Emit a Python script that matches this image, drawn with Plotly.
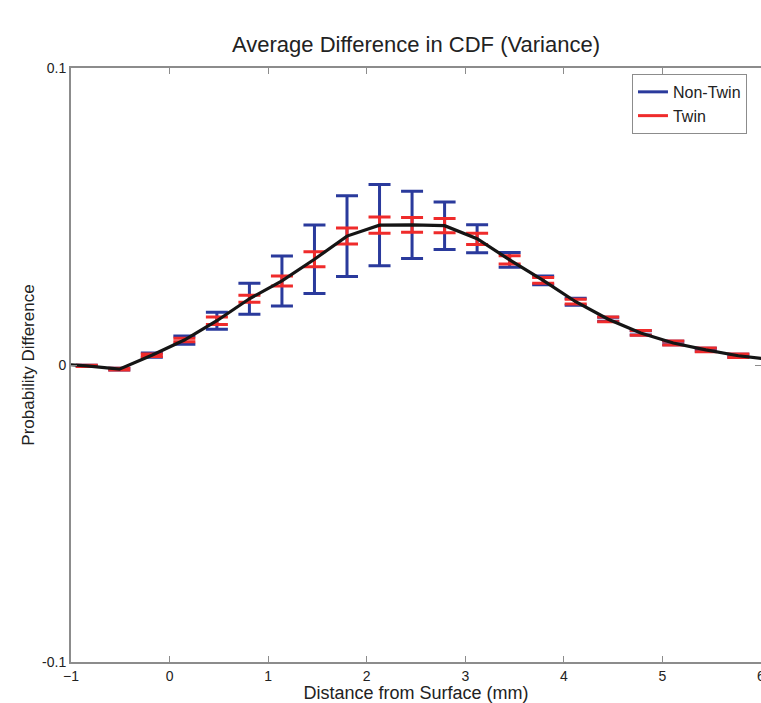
import plotly.graph_objects as go

# Bar positions (mm) and values
dist = [-0.84, -0.51, -0.18, 0.15, 0.48, 0.81, 1.14, 1.47, 1.80, 2.13, 2.46,
        2.79, 3.12, 3.45, 3.79, 4.12, 4.45, 4.78, 5.11, 5.44, 5.77]
mean_diff = [-0.0003, -0.0014, 0.0033, 0.0084, 0.0149, 0.0223, 0.0283, 0.0356,
             0.0434, 0.0471, 0.0472, 0.0469, 0.0425, 0.0354, 0.0285, 0.0213,
             0.0154, 0.0108, 0.0074, 0.0051, 0.0031]
err_nontwin = [0.0002, 0.0003, 0.0007, 0.0014, 0.0029, 0.0052, 0.0084, 0.0115,
               0.0136, 0.0137, 0.0113, 0.0080, 0.0047, 0.0025, 0.0015, 0.0012,
               0.0007, 0.0007, 0.0006, 0.0005, 0.0005]
err_twin = [0.0002, 0.0003, 0.0004, 0.0006, 0.0013, 0.0012, 0.0017, 0.0025,
            0.0027, 0.0027, 0.0025, 0.0024, 0.0019, 0.0014, 0.0010, 0.0008,
            0.0008, 0.0008, 0.0007, 0.0006, 0.0006]
# mean curve continues just beyond the axis limits on both sides
edge_dist = [-1.17, 6.10]
edge_mean = [0.0005, 0.0018]

x_ticks = [-1, 0, 1, 2, 3, 4, 5, 6]
y_ticks = [-0.1, 0, 0.1]
y_tick_text = ["-0.1", "0", "0.1"]

BLUE = "#2a3a9c"
RED = "#ef2b2b"
FONT = "Liberation Sans, Arial, sans-serif"

line_x = [edge_dist[0]] + dist + [edge_dist[1]]
line_y = [edge_mean[0]] + mean_diff + [edge_mean[1]]

fig = go.Figure()

fig.add_trace(go.Scatter(
    x=dist, y=mean_diff, mode="markers",
    marker=dict(size=1, color="rgba(0,0,0,0)"),
    error_y=dict(type="data", array=err_nontwin, visible=True,
                 color=BLUE, thickness=3, width=11),
    showlegend=False, hoverinfo="skip"))
fig.add_trace(go.Scatter(
    x=dist, y=mean_diff, mode="markers",
    marker=dict(size=1, color="rgba(0,0,0,0)"),
    error_y=dict(type="data", array=err_twin, visible=True,
                 color=RED, thickness=3, width=11),
    showlegend=False, hoverinfo="skip"))
fig.add_trace(go.Scatter(
    x=line_x, y=line_y, mode="lines",
    line=dict(color="#151515", width=3.2),
    showlegend=False, hoverinfo="skip"))

# legend entries
fig.add_trace(go.Scatter(x=[None], y=[None], mode="lines", name="Non-Twin",
                         line=dict(color=BLUE, width=3)))
fig.add_trace(go.Scatter(x=[None], y=[None], mode="lines", name="Twin",
                         line=dict(color=RED, width=3)))

axis_common = dict(showgrid=False, zeroline=False, showline=True,
                   linecolor="#8c8c8c", linewidth=2, mirror="ticks",
                   ticks="inside", ticklen=6, tickcolor="#8c8c8c", tickwidth=1,
                   ticklabeloverflow="allow", automargin=False,
                   tickfont=dict(family=FONT, size=14, color="#222"))

W, H = 761, 703
fig.update_layout(
    width=W, height=H,
    margin=dict(l=71, r=0, t=68, b=41),
    paper_bgcolor="white", plot_bgcolor="white",
    title=dict(text="Average Difference in CDF (Variance)",
               x=(71 + W) / 2 / W, xanchor="center",
               y=1 - 44 / H, yanchor="middle",
               font=dict(family=FONT, size=22, color="#222")),
    xaxis=dict(range=[-1, 6], tickvals=x_ticks,
               title=dict(text="Distance from Surface (mm)", standoff=8,
                          font=dict(family=FONT, size=18, color="#222")),
               **axis_common),
    yaxis=dict(range=[-0.1, 0.1], tickvals=y_ticks, ticktext=y_tick_text,
               title=dict(text="Probability Difference", standoff=3,
                          font=dict(family=FONT, size=17, color="#222")),
               **axis_common),
    legend=dict(x=0.813, y=0.99, xanchor="left", yanchor="top",
                bgcolor="white", bordercolor="#8c8c8c", borderwidth=1,
                font=dict(family=FONT, size=16, color="#222"),
                tracegroupgap=0, itemwidth=30),
)

# remove the default page margin so the figure fills the window exactly
page_css = (
    "var r=document.documentElement,b=document.body;"
    "r.style.margin='0';r.style.padding='0';r.style.overflow='hidden';"
    "b.style.margin='0';b.style.padding='0';b.style.overflow='hidden';"
)
fig.write_html("out.html",
               config={"displayModeBar": False},
               post_script=page_css)
